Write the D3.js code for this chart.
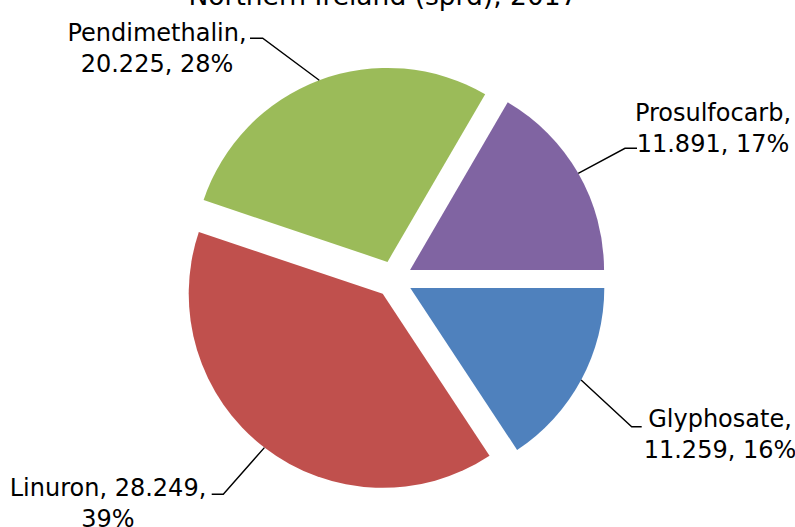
<!DOCTYPE html>
<html>
<head>
<meta charset="utf-8">
<script src="https://cdn.jsdelivr.net/npm/d3@7"></script>
<style>
  html, body { margin: 0; padding: 0; background: #fff; }
  svg { display: block; }
  text { font-family: "DejaVu Sans", sans-serif; fill: #000; }
</style>
</head>
<body>
<svg id="chart" width="795" height="527"></svg>
<script>
// ---- data ----
const categories = ["Glyphosate", "Linuron", "Pendimethalin", "Prosulfocarb"];
const values = [11.259, 28.249, 20.225, 11.891];
const colors = ["#4F81BD", "#C0504D", "#9BBB59", "#8064A2"];
const title = "Northern Ireland (sprd), 2017";

// ---- layout (label anchors, manually placed as in the original) ----
const labelLayout = [
  { elbow: [631.7, 426.7], end: [641.7, 426.7], cx: 720, y0: 426.5, split: "name" },
  { elbow: [223.3, 494.3], end: [211.7, 494.3], cx: 108, y0: 496, split: "pct" },
  { elbow: [262.7, 38.3], end: [250, 38.3], cx: 157, y0: 40.5, split: "name" },
  { elbow: [625, 148.3], end: [637, 148.3], cx: 713, y0: 120.5, split: "name" }
];

const svg = d3.select("#chart");
const cx = 394, cy = 279.2, R = 194, explode = 18.5;
const lineH = 31;

const total = d3.sum(values);
const data = categories.map((c, i) => ({ name: c, value: values[i], color: colors[i], layout: labelLayout[i] }));

const pie = d3.pie().value(d => d.value).sort(null)
  .startAngle(Math.PI / 2).endAngle(Math.PI / 2 + 2 * Math.PI);
const arc = d3.arc().innerRadius(0).outerRadius(R);
const arcs = pie(data);

const g = svg.append("g").attr("transform", `translate(${cx},${cy})`);

function offset(d) {
  const m = (d.startAngle + d.endAngle) / 2;
  return [Math.sin(m) * explode, -Math.cos(m) * explode];
}

g.selectAll("path.slice").data(arcs).enter().append("path")
  .attr("class", "slice")
  .attr("d", arc)
  .attr("fill", d => d.data.color)
  .attr("transform", d => { const o = offset(d); return `translate(${o[0]},${o[1]})`; });

// leader lines and labels
const fmt = d3.format(".3f");
arcs.forEach(d => {
  const m = (d.startAngle + d.endAngle) / 2;
  const o = offset(d);
  const px = cx + o[0] + Math.sin(m) * R;
  const py = cy + o[1] - Math.cos(m) * R;
  const L = d.data.layout;
  svg.append("polyline")
    .attr("points", [[px, py], L.elbow, L.end].map(p => p.join(",")).join(" "))
    .attr("fill", "none").attr("stroke", "#000").attr("stroke-width", 1.4);

  const pct = Math.round(d.data.value / total * 100) + "%";
  let lines;
  if (L.split === "name") lines = [d.data.name + ",", fmt(d.data.value) + ", " + pct];
  else lines = [d.data.name + ", " + fmt(d.data.value) + ",", pct];
  const t = svg.append("text").attr("text-anchor", "middle").attr("font-size", 24);
  lines.forEach((ln, i) => {
    t.append("tspan").attr("x", L.cx).attr("y", L.y0 + i * lineH).text(ln);
  });
});

// title (cut off at top as in original)
svg.append("text")
  .attr("x", 383).attr("y", 5)
  .attr("text-anchor", "middle")
  .attr("font-size", 26.5)
  .text(title);
</script>
</body>
</html>
